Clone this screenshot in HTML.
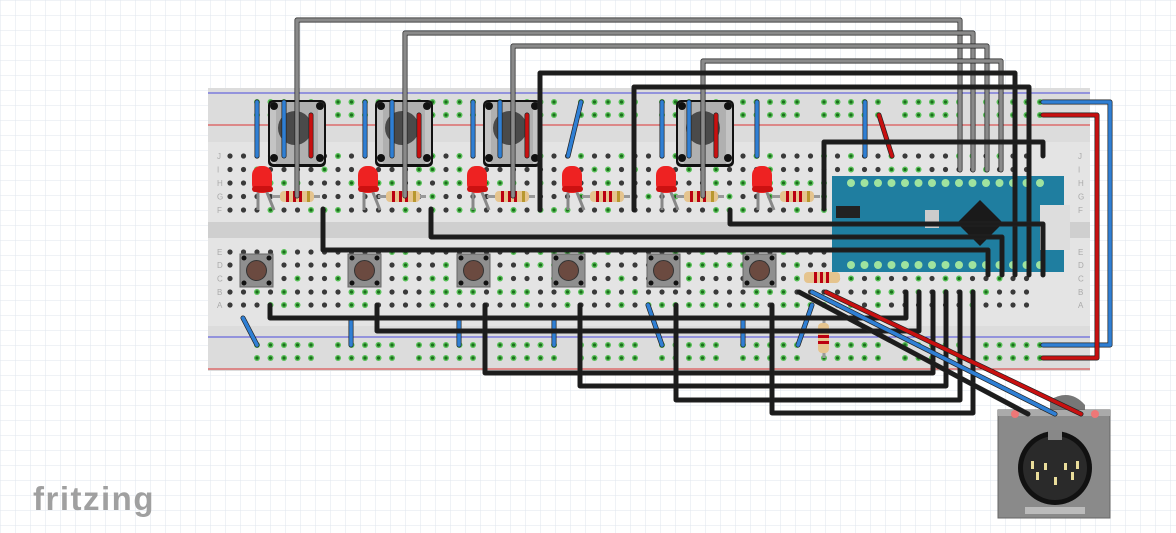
<!DOCTYPE html>
<html><head><meta charset="utf-8"><style>
html,body{margin:0;padding:0;background:#fff}
svg{display:block}
</style></head><body>
<svg id="s" width="1176" height="533" xmlns="http://www.w3.org/2000/svg">
<defs>
<pattern id="g" width="15" height="15" patternUnits="userSpaceOnUse"><path d="M15 0H0V15" fill="none" stroke="#dfe5ee" stroke-width="1"/></pattern>
</defs>
<rect width="1176" height="533" fill="#fff"/>
<rect width="1176" height="533" fill="url(#g)"/>
<rect x="208" y="88" width="882" height="283" fill="#dcdcdc"/>
<rect x="208" y="142" width="882" height="80" fill="#e4e4e4"/>
<rect x="208" y="238" width="882" height="88" fill="#e4e4e4"/>
<rect x="208" y="222" width="882" height="16" fill="#cfcfcf"/>
<line x1="208" y1="93" x2="1090" y2="93" stroke="#4a4adb" stroke-width="1"/>
<line x1="208" y1="125" x2="1090" y2="125" stroke="#d33" stroke-width="1"/>
<line x1="208" y1="337" x2="1090" y2="337" stroke="#4a4adb" stroke-width="1"/>
<line x1="208" y1="369" x2="1090" y2="369" stroke="#d33" stroke-width="1"/>
<g id="holes"></g>
<g id="parts"></g>
<g id="wires" fill="none" stroke-linecap="round" stroke-linejoin="round"></g>
<g>
<path d="M1050 400 Q1070 388 1085 405 L1085 412 L1050 412Z" fill="#777"/>
<rect x="998" y="410" width="112" height="108" fill="#8a8a8a" stroke="#666"/>
<rect x="998" y="410" width="112" height="6" fill="#aaa"/>
<circle cx="1055" cy="468" r="37" fill="#111"/>
<circle cx="1055" cy="468" r="32" fill="#2a2a2a"/>
<rect x="1048" y="430" width="14" height="10" fill="#888"/>
<rect x="1025" y="507" width="60" height="7" fill="#bbb"/>
<g fill="#e9dc9a"><rect x="1031" y="461" width="3" height="8"/><rect x="1076" y="461" width="3" height="8"/><rect x="1036" y="472" width="3" height="8"/><rect x="1071" y="472" width="3" height="8"/><rect x="1054" y="477" width="3" height="8"/><rect x="1044" y="463" width="3" height="7"/><rect x="1064" y="463" width="3" height="7"/></g>
<circle cx="1015" cy="414" r="4" fill="#e77"/><circle cx="1095" cy="414" r="4" fill="#e77"/>
</g>
<g id="wires2" fill="none" stroke-linecap="round"></g>
<text x="33" y="510" font-family="Liberation Sans, sans-serif" font-size="33" font-weight="bold" fill="#a0a0a0" letter-spacing="1.5">fritzing</text>
</svg>
<script>
const NS="http://www.w3.org/2000/svg";
function el(p,t,a){const e=document.createElementNS(NS,t);for(const k in a)e.setAttribute(k,a[k]);p.appendChild(e);return e;}
const H=document.getElementById('holes'),P=document.getElementById('parts'),W=document.getElementById('wires'),W2=document.getElementById('wires2');
const cx=c=>230+(c-1)*13.5;
const rowsT=[156,169.5,183,196.5,210],rowsB=[252,265,278.5,292,305];
function gh(x,y){el(H,'circle',{cx:x,cy:y,r:3,fill:'#58c158'});el(H,'circle',{cx:x,cy:y,r:1.6,fill:'#1d6e1d'});}
for(let c=1;c<=60;c++){for(const y of rowsT.concat(rowsB)){el(H,'circle',{cx:cx(c),cy:y,r:2.6,fill:'#3a3a3a'});}}
for(const y of [102,115,345,358]){for(let c=3;c<=62;c++){if((c-3)%6==5)continue;const x=cx(c);if(x>1050)continue;gh(x,y);}}
let seed=7;function rnd(){seed=(seed*9301+49297)%233280;return seed/233280;}
for(const y of rowsT.concat(rowsB)){for(let c=3;c<=58;c++){if(rnd()<0.35)gh(cx(c),y);}}
const lt=['J','I','H','G','F'],lb=['E','D','C','B','A'];
rowsT.forEach((y,i)=>{el(H,'text',{x:217,y:y+3,'font-size':8,fill:'#aaa','font-family':'Liberation Sans'}).textContent=lt[i];el(H,'text',{x:1078,y:y+3,'font-size':8,fill:'#aaa','font-family':'Liberation Sans'}).textContent=lt[i];});
rowsB.forEach((y,i)=>{el(H,'text',{x:217,y:y+3,'font-size':8,fill:'#aaa','font-family':'Liberation Sans'}).textContent=lb[i];el(H,'text',{x:1078,y:y+3,'font-size':8,fill:'#aaa','font-family':'Liberation Sans'}).textContent=lb[i];});
for(const x of [268,375,483,676]){
 el(P,'rect',{x:x,y:100,width:58,height:67,rx:5,fill:'#111'});
 el(P,'rect',{x:x+2,y:102,width:54,height:62,rx:4,fill:'#c4c4c4'});
 el(P,'rect',{x:x+8,y:102,width:42,height:62,fill:'#b0b0b0'});
 el(P,'circle',{cx:x+27,cy:128,r:17,fill:'#4a4a4a'});
 for(const [dx,dy] of [[6,6],[52,6],[6,58],[52,58]])el(P,'circle',{cx:x+dx,cy:100+dy,r:4,fill:'#111'});
}
for(const x of [262,368,477,572,666,762]){
 el(P,'line',{x1:x-4,y1:190,x2:x-4,y2:210,stroke:'#888','stroke-width':3});
 el(P,'line',{x1:x+4,y1:190,x2:x+12,y2:210,stroke:'#888','stroke-width':3});
 el(P,'rect',{x:x-10,y:166,width:20,height:27,rx:9,fill:'#e22'});
 el(P,'rect',{x:x-10,y:186,width:21,height:6,rx:3,fill:'#c11'});
 el(P,'line',{x1:x+10,y1:196.5,x2:x+58,y2:196.5,stroke:'#999','stroke-width':3});
 el(P,'rect',{x:x+18,y:191,width:34,height:11,rx:4,fill:'#e5c48e'});
 for(const d of [24,31,37,45])el(P,'rect',{x:x+d,y:191,width:3,height:11,fill:d==45?'#b8972f':'#b01'});
}
for(const x of [240,348,457,552,647,743]){
 el(P,'rect',{x:x,y:254,width:33,height:33,fill:'#8f8f8f',stroke:'#666'});
 el(P,'circle',{cx:x+16.5,cy:270.5,r:10,fill:'#6b4a40',stroke:'#333'});
 for(const [dx,dy] of [[4,4],[29,4],[4,29],[29,29]])el(P,'circle',{cx:x+dx,cy:254+dy,r:2.5,fill:'#111'});
}
el(P,'rect',{x:804,y:272,width:36,height:11,rx:4,fill:'#e5c48e'});
for(const d of [10,16,22])el(P,'rect',{x:804+d,y:272,width:3,height:11,fill:'#b01'});
el(P,'line',{x1:824,y1:320,x2:824,y2:358,stroke:'#999','stroke-width':3});
el(P,'rect',{x:818,y:323,width:11,height:30,rx:4,fill:'#e5c48e'});
for(const d of [6,12,18])el(P,'rect',{x:818,y:323+d,width:11,height:3,fill:'#b01'});
el(P,'rect',{x:832,y:176,width:232,height:96,fill:'#1f7ea0'});
el(P,'rect',{x:1040,y:205,width:30,height:45,fill:'#ddd'});
el(P,'path',{d:'M980 200 L1003 223 L980 246 L957 223Z',fill:'#1a1a1a'});
el(P,'rect',{x:836,y:206,width:24,height:12,fill:'#222'});
el(P,'rect',{x:925,y:210,width:14,height:18,fill:'#ccc'});
for(let i=0;i<15;i++){const x=851+i*13.5;el(P,'circle',{cx:x,cy:183,r:4,fill:'#9fe39f'});el(P,'circle',{cx:x,cy:265,r:4,fill:'#9fe39f'});}
function w(pts,col,sw=3.6){const d='M'+pts.map(p=>p.join(' ')).join('L');el(W,'path',{d:d,stroke:'#222',"stroke-width":sw+1.4});el(W,'path',{d:d,stroke:col,"stroke-width":sw});}
const B='#1c1c1c',G='#8a8a8a',BL='#2f7fd4',R='#c81010';
for(const [a,b] of [[[257,102],[257,156]],[[284,102],[284,156]],[[365,102],[365,156]],[[392,102],[392,156]],[[473,102],[473,156]],[[500,102],[500,156]],[[581,102],[568,156]],[[662,102],[662,156]],[[689,102],[689,156]],[[757,102],[757,156]],[[865,102],[865,156]],
 [[243,318],[257,345]],[[351,318],[351,345]],[[459,318],[459,345]],[[554,318],[554,345]],[[648,305],[662,345]],[[743,318],[743,345]],[[812,305],[798,345]]])w([a,b],BL,3.6);
for(const [a,b] of [[[311,115],[311,156]],[[419,115],[419,156]],[[527,115],[527,156]],[[716,115],[716,156]],[[879,115],[892,156]]])w([a,b],R,3.6);
w([[297,196],[297,20],[960,20],[960,170]],G);
w([[405,196],[405,33],[973,33],[973,170]],G);
w([[513,196],[513,46],[987,46],[987,170]],G);
w([[703,196],[703,61],[1001,61],[1001,170]],G);
w([[540,210],[540,73],[1015,73],[1015,275]],B);
w([[634,210],[634,87],[1029,87],[1029,275]],B);
w([[824,209],[824,142],[1043,142],[1043,156]],B);
w([[323,209],[323,250],[988,250],[988,275]],B);
w([[431,209],[431,237],[1002,237],[1002,275]],B);
w([[730,210],[730,224],[1043,224],[1043,275]],B);
w([[270,305],[270,318],[906,318],[906,292]],B);
w([[377,305],[377,331],[919,331],[919,292]],B);
w([[485,305],[485,373],[933,373],[933,292]],B);
w([[580,305],[580,386],[946,386],[946,292]],B);
w([[676,305],[676,400],[960,400],[960,292]],B);
w([[772,305],[772,413],[973,413],[973,292]],B);
w([[1043,102],[1110,102],[1110,345],[1043,345]],BL);
w([[1043,115],[1097,115],[1097,358],[1043,358]],R);
function w2(a,b,col){el(W2,'line',{x1:a[0],y1:a[1],x2:b[0],y2:b[1],stroke:'#222','stroke-width':5,'stroke-linecap':'round'});el(W2,'line',{x1:a[0],y1:a[1],x2:b[0],y2:b[1],stroke:col,'stroke-width':3.6,'stroke-linecap':'round'});}
w2([799,292],[1028,414],B);w2([812,292],[1055,414],BL);w2([826,292],[1081,414],R);
</script>
</body></html>
